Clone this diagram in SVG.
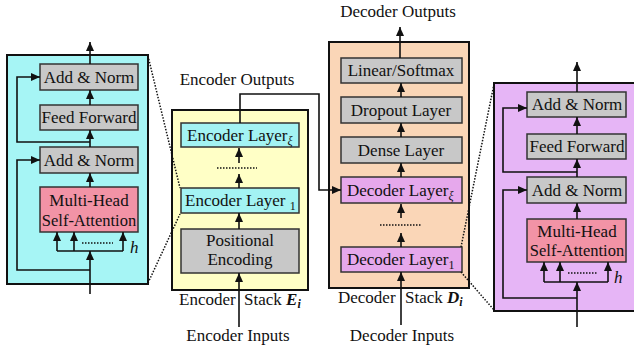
<svg xmlns="http://www.w3.org/2000/svg" width="634" height="348" viewBox="0 0 634 348">
<style>
text{font-family:"Liberation Serif","Times New Roman",serif;font-size:17px;fill:#111}
.c{text-anchor:middle}
.sub{font-size:12px}
.panel{stroke:#111;stroke-width:2}
.box{stroke:#333;stroke-width:1.5}
.gray{fill:#c8c8c8}
.pink{fill:#f293a6}
.cyan{fill:#a3f3f3}
.purp{fill:#e6a8ec}
.ln{fill:none;stroke:#111;stroke-width:1.6}
.arr{fill:none;stroke:#111;stroke-width:1.6;marker-end:url(#ah)}
.dot{fill:none;stroke:#111;stroke-width:1.5;stroke-dasharray:1.5 1.5}
</style>
<defs>
<marker id="ah" markerUnits="userSpaceOnUse" markerWidth="10" markerHeight="10" refX="9" refY="4" orient="auto">
<path d="M0,0 L9,4 L0,8 z" fill="#111"/>
</marker>
</defs>
<rect width="634" height="348" fill="#fff"/>

<g id="encoder-layer-detail">
<rect class="panel" x="7" y="55" width="141" height="229" fill="#a6f5f5"/>
<rect class="box gray" x="40" y="64" width="98" height="26"/>
<text class="c" x="89" y="83">Add &amp; Norm</text>
<rect class="box gray" x="40" y="105" width="98" height="25"/>
<text class="c" x="89" y="123">Feed Forward</text>
<rect class="box gray" x="40" y="147" width="98" height="26"/>
<text class="c" x="89" y="166">Add &amp; Norm</text>
<rect class="box pink" x="40" y="187" width="98" height="45"/>
<text class="c" x="89" y="206">Multi-Head</text>
<text class="c" x="89" y="226" style="font-size:16.5px">Self-Attention</text>
<text x="130" y="253" style="font-style:italic">h</text>
</g>

<g id="encoder-stack">
<rect class="panel" x="172" y="110" width="136" height="180" fill="#ffffc6"/>
<rect class="box cyan" x="181" y="123" width="118" height="24"/>
<text x="187" y="141">Encoder Layer<tspan class="sub" dy="4" style="font-style:italic">ξ</tspan></text>
<rect class="box cyan" x="181" y="188" width="118" height="25"/>
<text x="185" y="206">Encoder Layer <tspan class="sub" dy="4">1</tspan></text>
<rect class="box gray" x="181" y="229" width="118" height="44"/>
<text class="c" x="240" y="246">Positional</text>
<text class="c" x="240" y="265">Encoding</text>
<text x="179" y="305">Encoder</text>
<text x="244" y="305">Stack <tspan style="font-weight:bold;font-style:italic">E</tspan><tspan class="sub" dy="3" style="font-weight:bold;font-style:italic">i</tspan></text>
<text class="c" x="237" y="85">Encoder Outputs</text>
<text class="c" x="238" y="341">Encoder Inputs</text>
</g>

<g id="decoder-stack">
<rect class="panel" x="329" y="42" width="140" height="246" fill="#fad6b7"/>
<rect class="box gray" x="341" y="58" width="121" height="25"/>
<text class="c" x="401" y="76">Linear/Softmax</text>
<rect class="box gray" x="341" y="97" width="121" height="26"/>
<text class="c" x="401" y="116">Dropout Layer</text>
<rect class="box gray" x="341" y="137" width="121" height="26"/>
<text class="c" x="401" y="156">Dense Layer</text>
<rect class="box purp" x="341" y="177" width="121" height="26"/>
<text x="347" y="196">Decoder Layer<tspan class="sub" dy="4" style="font-style:italic">ξ</tspan></text>
<rect class="box purp" x="341" y="247" width="121" height="25"/>
<text x="347" y="265">Decoder Layer<tspan class="sub" dy="4">1</tspan></text>
<text x="338" y="303">Decoder</text>
<text x="405" y="303">Stack <tspan style="font-weight:bold;font-style:italic">D</tspan><tspan class="sub" dy="3" style="font-weight:bold;font-style:italic">i</tspan></text>
<text class="c" x="398" y="17">Decoder Outputs</text>
<text class="c" x="402" y="341">Decoder Inputs</text>
</g>

<g id="decoder-layer-detail">
<rect class="panel" x="494" y="83" width="145" height="228" fill="#e6b5f6"/>
<rect class="box gray" x="527" y="92" width="99" height="25"/>
<text class="c" x="577" y="110">Add &amp; Norm</text>
<rect class="box gray" x="527" y="134" width="99" height="25"/>
<text class="c" x="577" y="152">Feed Forward</text>
<rect class="box gray" x="527" y="177" width="99" height="26"/>
<text class="c" x="577" y="196">Add &amp; Norm</text>
<rect class="box pink" x="527" y="219" width="99" height="43"/>
<text class="c" x="577" y="237">Multi-Head</text>
<text class="c" x="577" y="256" style="font-size:16.5px">Self-Attention</text>
<text x="614" y="283" style="font-style:italic">h</text>
</g>

<g id="connectors">
<!-- left detail -->
<line class="arr" x1="90" y1="64" x2="90" y2="42"/>
<line class="arr" x1="90" y1="105" x2="90" y2="90"/>
<line class="arr" x1="90" y1="147" x2="90" y2="130"/>
<line class="arr" x1="90" y1="187" x2="90" y2="173"/>
<line class="arr" x1="90" y1="294" x2="90" y2="251"/>
<line class="ln" x1="57" y1="251" x2="123" y2="251"/>
<line class="arr" x1="57" y1="251" x2="57" y2="232"/>
<line class="arr" x1="74" y1="251" x2="74" y2="232"/>
<line class="arr" x1="123" y1="251" x2="123" y2="232"/>
<line class="dot" x1="82" y1="243" x2="113" y2="243"/>
<path class="arr" d="M90,142 H17 V77 H40"/>
<path class="arr" d="M90,270 H17 V160 H40"/>
<!-- encoder stack -->
<line class="arr" x1="239" y1="327" x2="239" y2="273"/>
<line class="arr" x1="239" y1="229" x2="239" y2="213"/>
<line class="arr" x1="239" y1="188" x2="239" y2="174"/>
<line class="dot" x1="217" y1="168" x2="257" y2="168"/>
<line class="arr" x1="239" y1="163" x2="239" y2="148"/>
<path class="arr" d="M240,123 V94 H319 V190 H341"/>
<!-- decoder stack -->
<line class="arr" x1="401" y1="325" x2="401" y2="272"/>
<line class="arr" x1="401" y1="247" x2="401" y2="233"/>
<line class="dot" x1="380" y1="225" x2="422" y2="225"/>
<line class="arr" x1="401" y1="218" x2="401" y2="204"/>
<line class="arr" x1="401" y1="177" x2="401" y2="163"/>
<line class="arr" x1="401" y1="137" x2="401" y2="123"/>
<line class="arr" x1="401" y1="97" x2="401" y2="83"/>
<line class="arr" x1="400" y1="58" x2="400" y2="27"/>
<!-- right detail -->
<line class="arr" x1="577" y1="92" x2="577" y2="62"/>
<line class="arr" x1="577" y1="134" x2="577" y2="117"/>
<line class="arr" x1="577" y1="177" x2="577" y2="159"/>
<line class="arr" x1="577" y1="219" x2="577" y2="203"/>
<line class="arr" x1="577" y1="327" x2="577" y2="282"/>
<line class="ln" x1="544" y1="282" x2="608" y2="282"/>
<line class="arr" x1="544" y1="282" x2="544" y2="262"/>
<line class="arr" x1="560" y1="282" x2="560" y2="262"/>
<line class="arr" x1="608" y1="282" x2="608" y2="262"/>
<line class="dot" x1="568" y1="273" x2="598" y2="273"/>
<path class="arr" d="M577,172 H503 V108 H527"/>
<path class="arr" d="M577,298 H503 V190 H527"/>
<!-- zoom guides -->
<line class="dot" x1="148" y1="56" x2="180" y2="188"/>
<line class="dot" x1="148" y1="283" x2="180" y2="214"/>
<line class="dot" x1="494" y1="84" x2="461" y2="247"/>
<line class="dot" x1="461" y1="272" x2="494" y2="310"/>
</g>
</svg>
